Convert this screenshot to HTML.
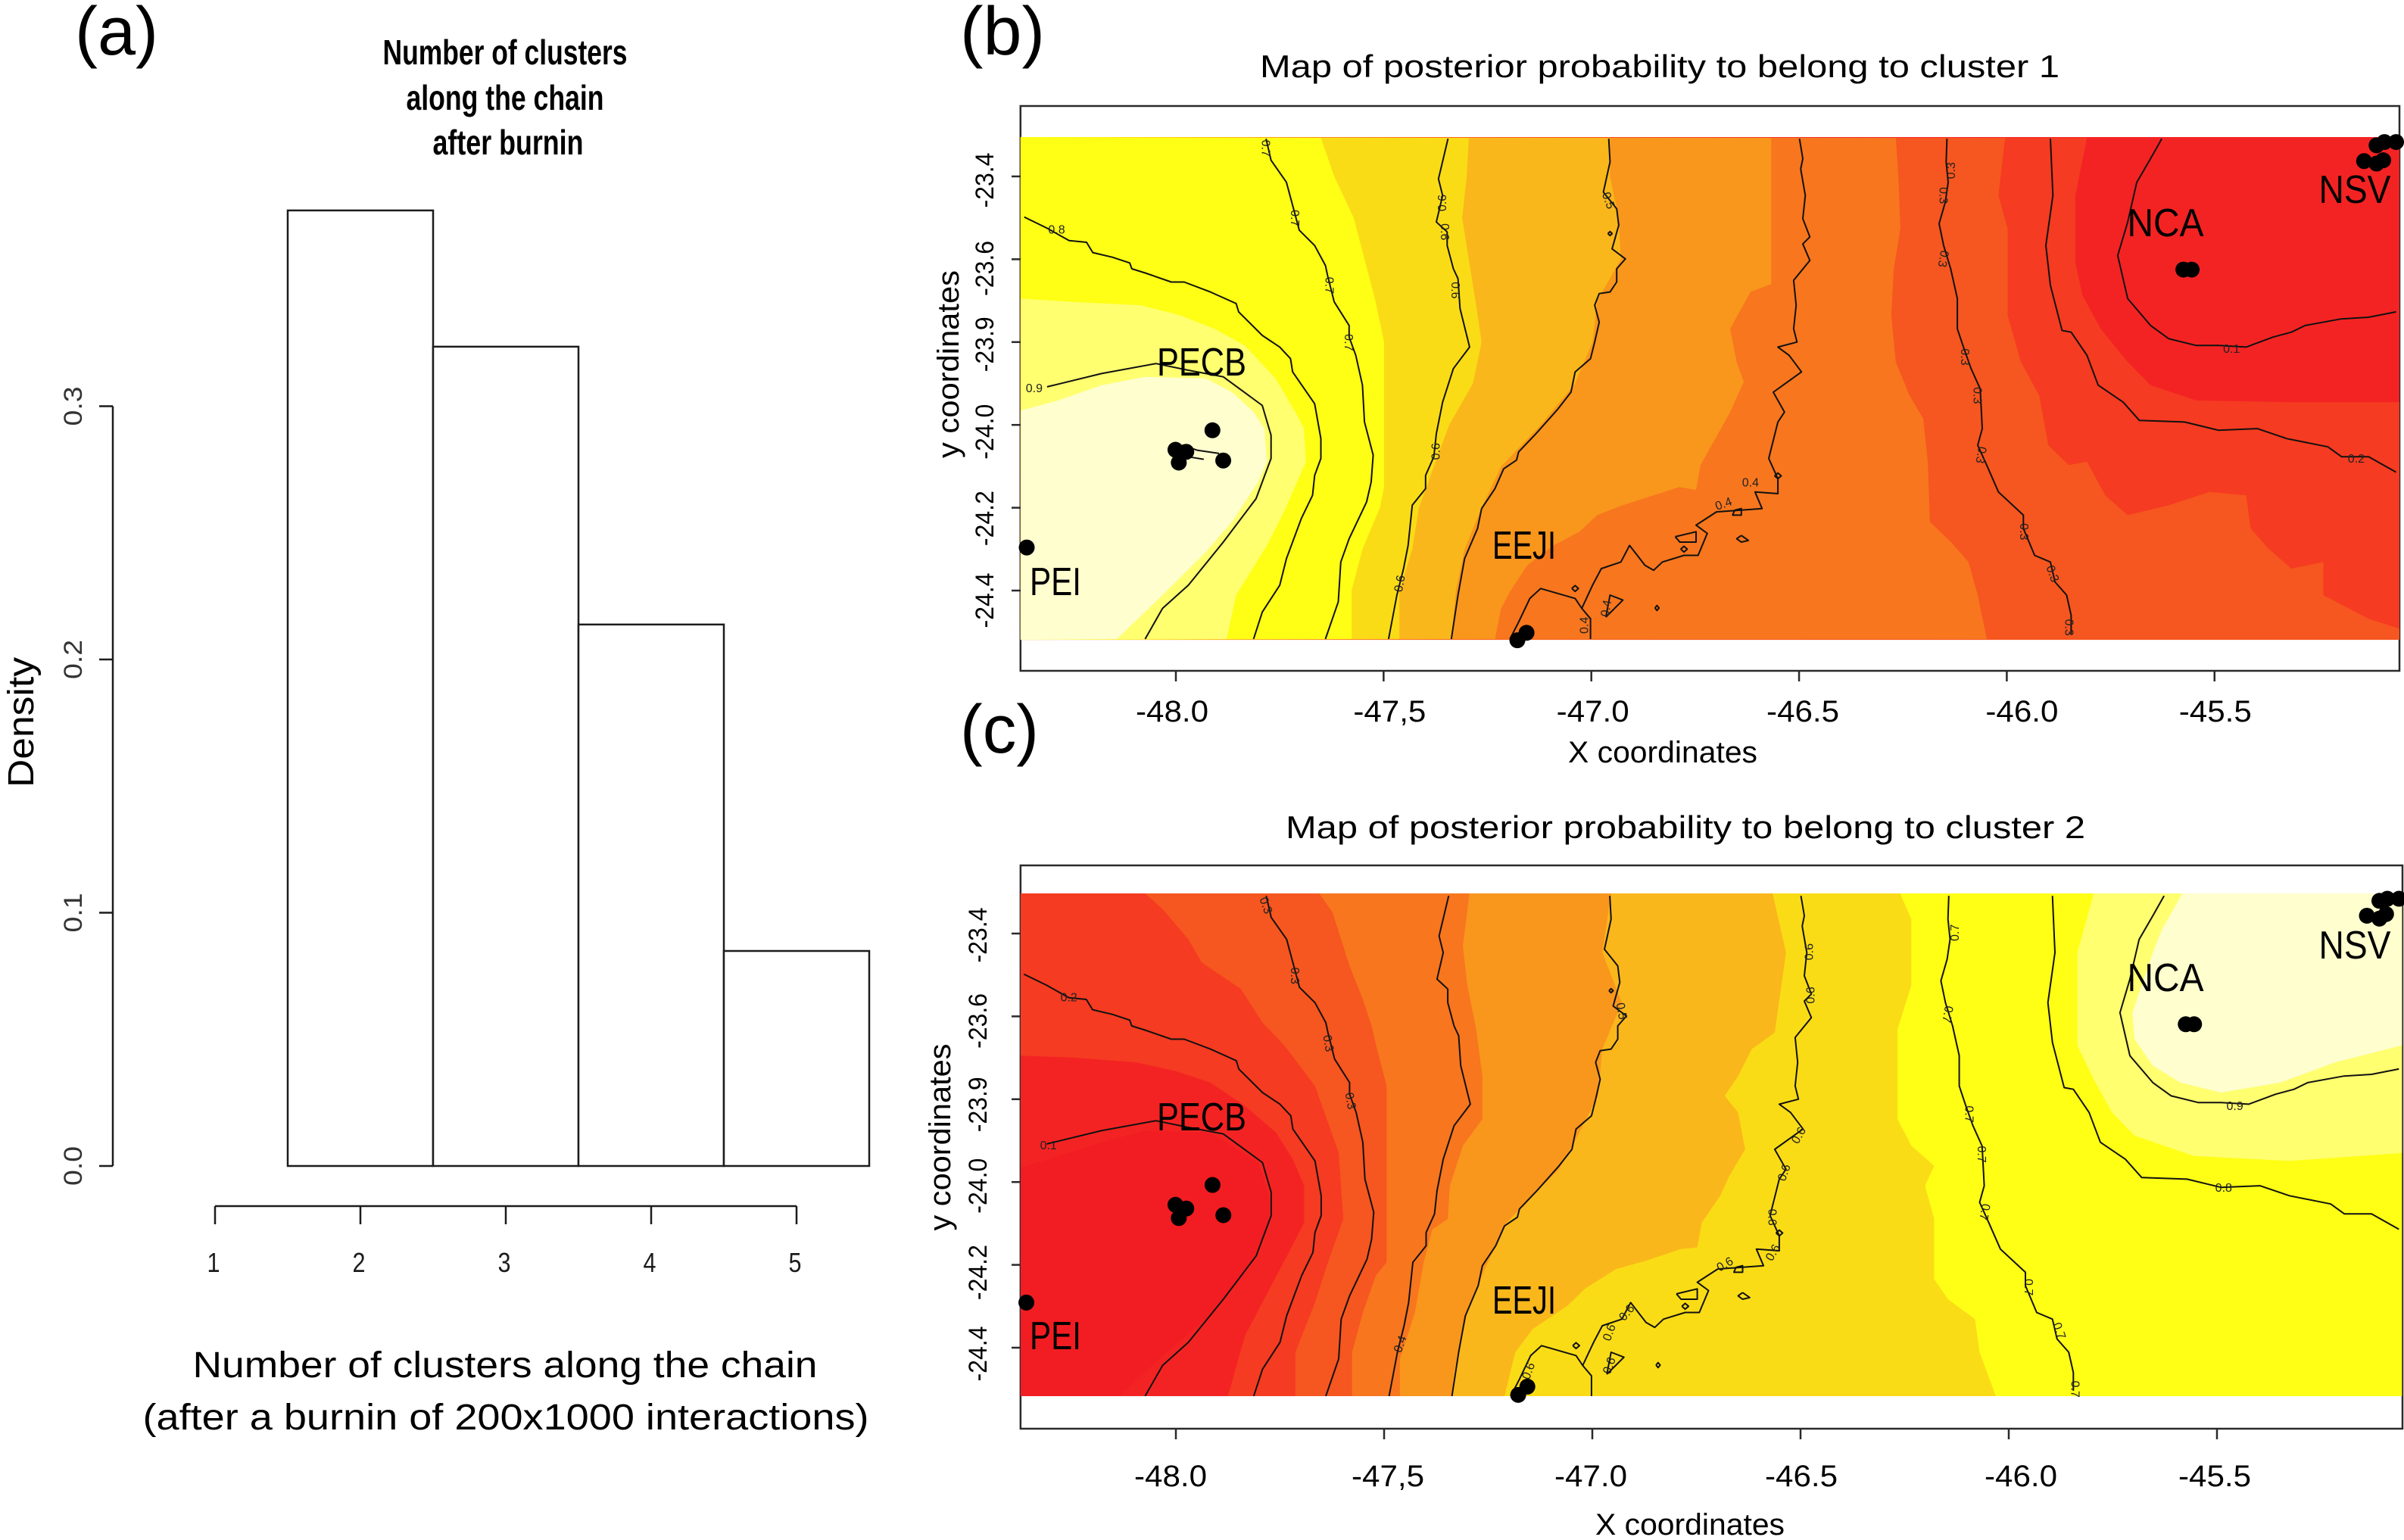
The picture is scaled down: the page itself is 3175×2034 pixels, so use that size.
<!DOCTYPE html>
<html lang="en">
<head>
<meta charset="utf-8">
<title>Cluster histogram and posterior probability maps</title>
<style>
html,body{margin:0;padding:0;background:#fff;}
svg{display:block;font-family:"Liberation Sans",sans-serif;}
</style>
</head>
<body>
<svg id="figure" xmlns="http://www.w3.org/2000/svg" width="3175" height="2034" viewBox="0 0 3175 2034">
  <rect x="0" y="0" width="3175" height="2034" fill="#ffffff"/>

  <text x="99" y="72" font-size="90" textLength="110" lengthAdjust="spacingAndGlyphs">(a)</text>
  <text x="1268" y="72" font-size="90" textLength="112" lengthAdjust="spacingAndGlyphs">(b)</text>
  <text x="1268" y="994" font-size="90" textLength="104" lengthAdjust="spacingAndGlyphs">(c)</text>

  <g id="histogram">
    <text x="667" y="85" font-size="46" font-weight="bold" text-anchor="middle" textLength="323" lengthAdjust="spacingAndGlyphs">Number of clusters</text>
    <text x="667" y="145" font-size="46" font-weight="bold" text-anchor="middle" textLength="261" lengthAdjust="spacingAndGlyphs">along the chain</text>
    <text x="671" y="204" font-size="46" font-weight="bold" text-anchor="middle" textLength="199" lengthAdjust="spacingAndGlyphs">after burnin</text>
    <text transform="translate(27 954) rotate(-90)" dy="0.35em" font-size="48" text-anchor="middle" textLength="172" lengthAdjust="spacingAndGlyphs">Density</text>
    <text x="667" y="1819" font-size="48" text-anchor="middle" textLength="825" lengthAdjust="spacingAndGlyphs">Number of clusters along the chain</text>
    <text x="668" y="1888" font-size="48" text-anchor="middle" textLength="959" lengthAdjust="spacingAndGlyphs">(after a burnin of 200x1000 interactions)</text>
  </g>

  <g id="map-b">
    <text x="2192" y="102" font-size="42" text-anchor="middle" textLength="1056" lengthAdjust="spacingAndGlyphs">Map of posterior probability to belong to cluster 1</text>
    <text x="2196" y="1007" font-size="40" text-anchor="middle" textLength="250" lengthAdjust="spacingAndGlyphs">X coordinates</text>
    <text transform="translate(1252 481) rotate(-90)" dy="0.35em" font-size="40" text-anchor="middle" textLength="248" lengthAdjust="spacingAndGlyphs">y coordinates</text>
  </g>

  <g id="map-c">
    <text x="2226" y="1107" font-size="42" text-anchor="middle" textLength="1056" lengthAdjust="spacingAndGlyphs">Map of posterior probability to belong to cluster 2</text>
    <text x="2232" y="2027" font-size="40" text-anchor="middle" textLength="250" lengthAdjust="spacingAndGlyphs">X coordinates</text>
    <text transform="translate(1241 1502) rotate(-90)" dy="0.35em" font-size="40" text-anchor="middle" textLength="247" lengthAdjust="spacingAndGlyphs">y coordinates</text>
  </g>
</svg>

<script>
/* ---------- histogram data ---------- */
const histCategories = [1, 2, 3, 4, 5];
const histDensities = [0, 0.3773, 0.3235, 0.2138, 0.0849];
const histYTicks = [0, 0.1, 0.2, 0.3];
const histYTickLabels = ['0.0', '0.1', '0.2', '0.3'];

/* ---------- map axis data ---------- */
const mapXTicks = [-48, -47.5, -47, -46.5, -46, -45.5];
const mapXTickLabels = ['-48.0', '-47,5', '-47.0', '-46.5', '-46.0', '-45.5'];
const mapYTicks = [-23.4, -23.6, -23.8, -24, -24.2, -24.4];
const mapYTickLabels = ['-23.4', '-23.6', '-23.9', '-24.0', '-24.2', '-24.4'];

/* ---------- cluster 1: probability band edges, [longitude, latitude] ---------- */
const c1EdgeRed = [[-45.807,-23.307],[-45.835,-23.446],[-45.835,-23.607],[-45.818,-23.687],[-45.774,-23.768],[-45.709,-23.848],[-45.654,-23.904],[-45.544,-23.941],[-45.326,-23.945],[-45.055,-23.945]];
const c1EdgeRedOrange = [[-46.004,-23.307],[-46.020,-23.446],[-45.998,-23.526],[-45.998,-23.735],[-45.966,-23.848],[-45.922,-23.929],[-45.900,-24.049],[-45.851,-24.097],[-45.807,-24.089],[-45.763,-24.170],[-45.709,-24.218],[-45.610,-24.194],[-45.512,-24.162],[-45.424,-24.170],[-45.413,-24.250],[-45.370,-24.299],[-45.315,-24.347],[-45.238,-24.331],[-45.238,-24.411],[-45.129,-24.468],[-45.055,-24.492]];
const c1EdgeOrangeRed = [[-46.267,-23.307],[-46.261,-23.398],[-46.256,-23.526],[-46.272,-23.623],[-46.278,-23.735],[-46.267,-23.848],[-46.234,-23.929],[-46.201,-23.985],[-46.190,-24.089],[-46.185,-24.234],[-46.135,-24.282],[-46.092,-24.331],[-46.070,-24.411],[-46.048,-24.517]];
const c1EdgeDarkOrange = [[-46.567,-23.307],[-46.567,-23.660],[-46.617,-23.679],[-46.639,-23.719],[-46.666,-23.768],[-46.650,-23.848],[-46.633,-23.896],[-46.666,-23.969],[-46.688,-24.009],[-46.715,-24.057],[-46.737,-24.097],[-46.748,-24.157],[-46.788,-24.150],[-46.924,-24.194],[-46.986,-24.218],[-47.028,-24.258],[-47.091,-24.291],[-47.154,-24.339],[-47.196,-24.403],[-47.217,-24.443],[-47.232,-24.517]];
const c1EdgeOrange = [[-46.955,-23.307],[-46.955,-23.400],[-46.934,-23.500],[-46.929,-23.600],[-46.986,-23.700],[-46.997,-23.800],[-47.039,-23.900],[-47.122,-24.000],[-47.217,-24.100],[-47.264,-24.200],[-47.305,-24.300],[-47.326,-24.400],[-47.337,-24.517]];
const c1EdgeAmber = [[-47.295,-23.307],[-47.300,-23.400],[-47.311,-23.500],[-47.295,-23.600],[-47.279,-23.700],[-47.264,-23.800],[-47.285,-23.900],[-47.342,-24.000],[-47.379,-24.100],[-47.415,-24.200],[-47.431,-24.300],[-47.462,-24.400],[-47.462,-24.517]];
const c1EdgeGold = [[-47.651,-23.307],[-47.619,-23.400],[-47.572,-23.500],[-47.546,-23.600],[-47.520,-23.700],[-47.499,-23.800],[-47.499,-24.000],[-47.499,-24.150],[-47.509,-24.200],[-47.551,-24.300],[-47.577,-24.400],[-47.577,-24.517]];
const c1EdgeYellow = [[-48.373,-23.695],[-48.252,-23.703],[-48.085,-23.711],[-47.991,-23.735],[-47.907,-23.768],[-47.834,-23.808],[-47.760,-23.888],[-47.708,-23.977],[-47.692,-24.009],[-47.687,-24.089],[-47.719,-24.162],[-47.740,-24.210],[-47.781,-24.291],[-47.855,-24.411],[-47.878,-24.517]];
const c1EdgeLight = [[-48.373,-23.965],[-48.283,-23.941],[-48.179,-23.904],[-48.074,-23.884],[-47.928,-23.888],[-47.865,-23.921],[-47.813,-23.969],[-47.787,-24.009],[-47.781,-24.089],[-47.802,-24.138],[-47.865,-24.234],[-47.928,-24.307],[-48.032,-24.411],[-48.142,-24.517]];

/* ---------- cluster 2: probability band edges, [longitude, latitude] ---------- */
const c2EdgeRed = [[-48.373,-23.965],[-48.283,-23.937],[-48.179,-23.904],[-48.074,-23.876],[-47.917,-23.880],[-47.802,-23.953],[-47.771,-24.049],[-47.781,-24.122],[-47.844,-24.234],[-47.928,-24.331],[-48.022,-24.411],[-48.137,-24.517]];
const c2EdgeRedOrange = [[-48.373,-23.695],[-48.252,-23.699],[-48.095,-23.711],[-48.001,-23.732],[-47.917,-23.760],[-47.834,-23.816],[-47.760,-23.880],[-47.719,-23.945],[-47.692,-24.009],[-47.692,-24.098],[-47.729,-24.170],[-47.771,-24.250],[-47.834,-24.371],[-47.875,-24.517]];
const c2EdgeOrangeRed = [[-48.074,-23.303],[-48.032,-23.341],[-47.970,-23.414],[-47.938,-23.470],[-47.844,-23.534],[-47.792,-23.615],[-47.739,-23.671],[-47.666,-23.768],[-47.609,-23.929],[-47.598,-24.089],[-47.635,-24.194],[-47.666,-24.291],[-47.713,-24.411],[-47.713,-24.517]];
const c2EdgeDarkOrange = [[-47.656,-23.303],[-47.624,-23.349],[-47.583,-23.478],[-47.551,-23.559],[-47.530,-23.623],[-47.515,-23.687],[-47.494,-23.768],[-47.494,-24.194],[-47.520,-24.226],[-47.551,-24.315],[-47.577,-24.411],[-47.577,-24.517]];
const c2EdgeOrange = [[-47.295,-23.303],[-47.311,-23.430],[-47.300,-23.526],[-47.279,-23.631],[-47.264,-23.744],[-47.264,-23.848],[-47.311,-23.912],[-47.342,-24.009],[-47.347,-24.089],[-47.384,-24.114],[-47.405,-24.194],[-47.426,-24.315],[-47.462,-24.427],[-47.462,-24.517]];
const c2EdgeAmber = [[-46.955,-23.303],[-46.976,-23.446],[-46.929,-23.567],[-46.976,-23.679],[-46.986,-23.792],[-47.039,-23.896],[-47.080,-23.969],[-47.143,-24.033],[-47.206,-24.098],[-47.258,-24.210],[-47.300,-24.315],[-47.332,-24.460],[-47.337,-24.517]];
const c2EdgeGold = [[-46.567,-23.303],[-46.535,-23.446],[-46.546,-23.526],[-46.562,-23.639],[-46.617,-23.679],[-46.650,-23.744],[-46.682,-23.792],[-46.650,-23.832],[-46.633,-23.921],[-46.671,-23.985],[-46.693,-24.033],[-46.737,-24.098],[-46.748,-24.158],[-46.788,-24.162],[-46.871,-24.190],[-46.943,-24.210],[-47.018,-24.258],[-47.060,-24.299],[-47.143,-24.355],[-47.185,-24.411],[-47.211,-24.517]];
const c2EdgeYellow = [[-46.261,-23.303],[-46.234,-23.365],[-46.234,-23.526],[-46.267,-23.631],[-46.267,-23.848],[-46.234,-23.912],[-46.179,-23.961],[-46.201,-24.009],[-46.179,-24.089],[-46.179,-24.234],[-46.146,-24.283],[-46.081,-24.331],[-46.070,-24.411],[-46.031,-24.517]];
const c2EdgeLight = [[-45.796,-23.303],[-45.835,-23.446],[-45.835,-23.671],[-45.796,-23.752],[-45.752,-23.832],[-45.698,-23.888],[-45.556,-23.937],[-45.326,-23.949],[-45.044,-23.929]];
const c2EdgePale = [[-45.583,-23.303],[-45.632,-23.390],[-45.654,-23.446],[-45.703,-23.591],[-45.698,-23.655],[-45.654,-23.719],[-45.588,-23.760],[-45.490,-23.784],[-45.348,-23.760],[-45.216,-23.711],[-45.044,-23.667]];

/* ---------- contour traces, [longitude, latitude] ---------- */
const contourA = [[-48.365,-23.498],[-48.310,-23.525],[-48.257,-23.555],[-48.215,-23.559],[-48.200,-23.584],[-48.153,-23.595],[-48.111,-23.609],[-48.106,-23.623],[-48.074,-23.633],[-48.011,-23.655],[-47.980,-23.655],[-47.917,-23.679],[-47.855,-23.707],[-47.849,-23.727],[-47.792,-23.784],[-47.750,-23.812],[-47.724,-23.840],[-47.719,-23.872],[-47.666,-23.949],[-47.651,-24.033],[-47.651,-24.081],[-47.666,-24.122],[-47.671,-24.170],[-47.698,-24.226],[-47.734,-24.323],[-47.750,-24.387],[-47.792,-24.452],[-47.813,-24.517]];
const contourB = [[-47.783,-23.309],[-47.771,-23.361],[-47.734,-23.414],[-47.719,-23.470],[-47.703,-23.530],[-47.666,-23.567],[-47.640,-23.615],[-47.635,-23.639],[-47.619,-23.703],[-47.583,-23.760],[-47.583,-23.788],[-47.567,-23.832],[-47.551,-23.904],[-47.546,-23.993],[-47.525,-24.073],[-47.530,-24.138],[-47.541,-24.186],[-47.583,-24.275],[-47.603,-24.331],[-47.609,-24.427],[-47.640,-24.517]];
const contourC = [[-47.345,-23.309],[-47.368,-23.406],[-47.358,-23.446],[-47.373,-23.510],[-47.347,-23.534],[-47.347,-23.567],[-47.332,-23.623],[-47.321,-23.647],[-47.316,-23.719],[-47.300,-23.784],[-47.293,-23.812],[-47.332,-23.864],[-47.358,-23.945],[-47.373,-24.021],[-47.379,-24.077],[-47.399,-24.122],[-47.399,-24.154],[-47.431,-24.194],[-47.441,-24.291],[-47.452,-24.347],[-47.468,-24.411],[-47.488,-24.517]];
const contourD = [[-46.958,-23.309],[-46.955,-23.365],[-46.971,-23.438],[-46.939,-23.478],[-46.934,-23.518],[-46.950,-23.575],[-46.918,-23.599],[-46.939,-23.623],[-46.939,-23.655],[-46.955,-23.679],[-46.981,-23.683],[-46.992,-23.711],[-46.981,-23.752],[-46.992,-23.800],[-47.002,-23.840],[-47.039,-23.872],[-47.049,-23.921],[-47.080,-23.961],[-47.133,-24.021],[-47.175,-24.065],[-47.180,-24.085],[-47.211,-24.106],[-47.232,-24.154],[-47.264,-24.202],[-47.274,-24.250],[-47.305,-24.323],[-47.321,-24.411],[-47.337,-24.517]];
const contourE = [[-46.499,-23.309],[-46.491,-23.357],[-46.496,-23.382],[-46.485,-23.446],[-46.491,-23.502],[-46.474,-23.546],[-46.491,-23.563],[-46.474,-23.603],[-46.513,-23.651],[-46.507,-23.711],[-46.513,-23.768],[-46.505,-23.800],[-46.551,-23.812],[-46.524,-23.832],[-46.494,-23.872],[-46.562,-23.921],[-46.535,-23.969],[-46.551,-23.993],[-46.567,-24.057],[-46.573,-24.081],[-46.551,-24.130],[-46.551,-24.166],[-46.606,-24.162],[-46.589,-24.202],[-46.699,-24.210],[-46.748,-24.242],[-46.721,-24.262],[-46.743,-24.315],[-46.777,-24.315],[-46.829,-24.331],[-46.850,-24.351],[-46.871,-24.339],[-46.908,-24.291],[-46.929,-24.331],[-46.976,-24.347],[-46.997,-24.387],[-47.023,-24.443],[-47.039,-24.419],[-47.122,-24.395],[-47.148,-24.419],[-47.175,-24.476],[-47.196,-24.517]];
const contourEBranch = [[-47.023,-24.443],[-47.002,-24.468],[-47.002,-24.517]];
const contourF = [[-46.144,-23.309],[-46.146,-23.365],[-46.141,-23.414],[-46.148,-23.462],[-46.163,-23.514],[-46.152,-23.567],[-46.135,-23.623],[-46.119,-23.695],[-46.119,-23.768],[-46.103,-23.816],[-46.086,-23.864],[-46.064,-23.913],[-46.059,-24.009],[-46.070,-24.049],[-46.048,-24.098],[-46.020,-24.162],[-45.960,-24.218],[-45.960,-24.250],[-45.933,-24.315],[-45.895,-24.331],[-45.884,-24.379],[-45.856,-24.411],[-45.845,-24.460],[-45.845,-24.504]];
const contourG = [[-45.895,-23.309],[-45.889,-23.446],[-45.906,-23.567],[-45.895,-23.663],[-45.867,-23.772],[-45.845,-23.776],[-45.807,-23.832],[-45.780,-23.904],[-45.720,-23.945],[-45.681,-23.989],[-45.572,-23.993],[-45.490,-24.013],[-45.397,-24.009],[-45.326,-24.033],[-45.227,-24.053],[-45.194,-24.077],[-45.129,-24.077],[-45.063,-24.114]];
const contourH = [[-45.627,-23.309],[-45.654,-23.357],[-45.687,-23.414],[-45.709,-23.510],[-45.733,-23.591],[-45.709,-23.695],[-45.654,-23.760],[-45.610,-23.792],[-45.545,-23.808],[-45.490,-23.808],[-45.424,-23.812],[-45.359,-23.788],[-45.315,-23.776],[-45.282,-23.760],[-45.195,-23.744],[-45.129,-23.740],[-45.063,-23.727]];
const contourI = [[-48.310,-23.908],[-48.179,-23.876],[-48.048,-23.852],[-47.970,-23.868],[-47.886,-23.884],[-47.792,-23.953],[-47.771,-24.025],[-47.771,-24.081],[-47.807,-24.178],[-47.886,-24.283],[-47.970,-24.387],[-48.032,-24.443],[-48.074,-24.517]];
const contourPeak1 = [[-47.985,-24.049],[-47.949,-24.061],[-47.896,-24.069]];
const contourPeak2 = [[-47.970,-24.077],[-47.933,-24.083]];
const contourLoop1 = [[-46.965,-24.464],[-46.924,-24.423],[-46.955,-24.411],[-46.965,-24.464]];
const contourLoop2 = [[-46.639,-24.267],[-46.622,-24.279],[-46.639,-24.283],[-46.650,-24.275],[-46.639,-24.267]];
const contourLoop3 = [[-46.655,-24.206],[-46.639,-24.202],[-46.639,-24.218],[-46.660,-24.218],[-46.655,-24.206]];
const contourLoop4 = [[-46.798,-24.270],[-46.748,-24.258],[-46.748,-24.283],[-46.787,-24.283],[-46.798,-24.270]];
const contourLoop5 = [[-46.785,-24.300],[-46.777,-24.293],[-46.769,-24.300],[-46.777,-24.307],[-46.785,-24.300]];
const contourLoop6 = [[-47.047,-24.395],[-47.039,-24.388],[-47.031,-24.395],[-47.039,-24.402],[-47.047,-24.395]];
const contourLoop7 = [[-46.559,-24.123],[-46.551,-24.116],[-46.543,-24.123],[-46.551,-24.130],[-46.559,-24.123]];
const contourLoop8 = [[-46.960,-23.538],[-46.955,-23.533],[-46.950,-23.538],[-46.955,-23.543],[-46.960,-23.538]];
const contourLoop9 = [[-46.847,-24.442],[-46.842,-24.436],[-46.837,-24.442],[-46.842,-24.448],[-46.847,-24.442]];

/* ---------- contour labels: longitude, latitude, text, rotation ---------- */
const c1ContourLabels = [[-48.287,-23.528,'0.8',0],[-48.341,-23.911,'0.9',0],[-47.783,-23.332,'0.7',90],[-47.713,-23.501,'0.7',90],[-47.630,-23.663,'0.7',90],[-47.583,-23.801,'0.7',90],[-47.360,-23.464,'0.6',-90],[-47.352,-23.534,'0.6',90],[-47.326,-23.675,'0.6',90],[-47.375,-24.064,'0.6',-90],[-47.462,-24.383,'0.6',-80],[-46.958,-23.458,'0.5',70],[-46.965,-24.443,'0.4',-80],[-47.018,-24.484,'0.4',-90],[-46.135,-23.386,'0.3',-90],[-46.152,-23.446,'0.3',90],[-46.152,-23.599,'0.3',100],[-46.100,-23.836,'0.3',90],[-46.070,-23.929,'0.3',90],[-46.061,-24.073,'0.3',100],[-45.958,-24.258,'0.3',90],[-45.889,-24.359,'0.3',70],[-45.849,-24.489,'0.3',90],[-46.682,-24.190,'0.4',-20],[-46.617,-24.138,'0.4',0],[-45.459,-23.816,'0.1',0],[-45.159,-24.081,'0.2',0]];
const c2ContourLabels = [[-48.257,-23.553,'0.2',0],[-48.306,-23.911,'0.1',0],[-47.783,-23.332,'0.3',70],[-47.713,-23.502,'0.3',90],[-47.633,-23.665,'0.3',80],[-47.580,-23.804,'0.3',80],[-47.462,-24.391,'0.4',-70],[-46.929,-23.587,'0.5',80],[-46.480,-23.444,'0.6',-90],[-46.477,-23.549,'0.6',-90],[-46.505,-23.887,'0.6',-60],[-46.540,-23.977,'0.6',-70],[-46.567,-24.085,'0.6',90],[-46.567,-24.170,'0.6',-60],[-46.682,-24.198,'0.6',-30],[-46.130,-23.398,'0.7',-90],[-46.146,-23.595,'0.7',100],[-46.094,-23.836,'0.7',90],[-46.064,-23.933,'0.7',90],[-46.057,-24.073,'0.7',100],[-45.952,-24.254,'0.7',90],[-45.878,-24.359,'0.7',70],[-45.840,-24.500,'0.7',90],[-45.457,-23.816,'0.9',0],[-45.484,-24.013,'0.8',0],[-47.154,-24.456,'0.6',-70],[-46.960,-24.363,'0.6',-70],[-46.918,-24.315,'0.6',-50],[-46.960,-24.443,'0.6',-70]];

/* ---------- sampling sites: longitude, latitude ---------- */
const c1Sites = [[-47.912,-24.013],[-48.001,-24.060],[-47.975,-24.065],[-47.993,-24.091],[-47.886,-24.086],[-48.359,-24.296],[-47.156,-24.502],[-47.178,-24.520],[-45.575,-23.625],[-45.555,-23.625],[-45.063,-23.317],[-45.091,-23.317],[-45.110,-23.325],[-45.140,-23.363],[-45.110,-23.369],[-45.094,-23.361]];
const c2Sites = [[-47.912,-24.007],[-48.001,-24.055],[-47.975,-24.064],[-47.993,-24.087],[-47.886,-24.080],[-48.359,-24.291],[-47.156,-24.494],[-47.178,-24.514],[-45.575,-23.619],[-45.555,-23.619],[-45.063,-23.316],[-45.091,-23.316],[-45.110,-23.321],[-45.140,-23.357],[-45.110,-23.364],[-45.094,-23.353]];

/* ---------- site names ---------- */
const siteNames = ['PECB', 'EEJI', 'PEI', 'NCA', 'NSV'];

/* ---------- rendering ---------- */
const SVG_NS = 'http://www.w3.org/2000/svg';
const COLORS = {
  deep: '#F21D22', red: '#F42323', redOrange: '#F53B21', orangeRed: '#F6561F',
  darkOrange: '#F7761E', orange: '#F9961C', amber: '#FAB71B', gold: '#FADC16',
  yellow: '#FFFF16', light: '#FFFF70', pale: '#FEFECE'
};

function make(parent, tag, attrs, text) {
  const el = document.createElementNS(SVG_NS, tag);
  for (const key in attrs) { el.setAttribute(key, attrs[key]); }
  if (text !== undefined) { el.textContent = text; }
  parent.appendChild(el);
  return el;
}

/* histogram */
const histGroup = document.getElementById('histogram');
const histX = v => 284 + (v - 1) * 192;
const histY = v => 1540 - v * 3345;

histCategories.forEach((cat, i) => {
  const x0 = histX(cat - 0.5);
  const x1 = histX(cat + 0.5);
  const bar = make(histGroup, 'rect', {
    x: x0, y: histY(histDensities[i]), width: x1 - x0,
    height: histY(0) - histY(histDensities[i]),
    fill: '#ffffff', stroke: '#1c1c1c', 'stroke-width': 2.5
  });
  
  

  const tick = make(histGroup, 'line', {
    x1: histX(cat), x2: histX(cat), y1: 1593, y2: 1617, stroke: '#1c1c1c', 'stroke-width': 2.5
  });
  
  

  const label = make(histGroup, 'text', {
    x: histX(cat) - 2, y: 1680, 'font-size': 36, 'text-anchor': 'middle', fill: '#1c1c1c',
    textLength: 17, lengthAdjust: 'spacingAndGlyphs'
  }, String(cat));
  
  
});

const histXAxis = make(histGroup, 'line', {
  x1: histX(histCategories[0]), x2: histX(histCategories[histCategories.length - 1]),
  y1: 1593, y2: 1593, stroke: '#1c1c1c', 'stroke-width': 2.5
});



const histYAxis = make(histGroup, 'line', {
  x1: 149, x2: 149, y1: histY(histYTicks[histYTicks.length - 1]), y2: histY(histYTicks[0]),
  stroke: '#1c1c1c', 'stroke-width': 2.5
});



histYTicks.forEach((value, i) => {
  const tick = make(histGroup, 'line', {
    x1: 131, x2: 149, y1: histY(value), y2: histY(value), stroke: '#1c1c1c', 'stroke-width': 2.5
  });
  
  

  const label = make(histGroup, 'text', {
    transform: 'translate(96 ' + histY(value) + ') rotate(-90)', dy: '0.35em',
    'font-size': 34, 'text-anchor': 'middle', fill: '#333333',
    textLength: 52, lengthAdjust: 'spacingAndGlyphs'
  }, histYTickLabels[i]);
  
  
});

/* maps */
const sharedTraces = [contourA, contourB, contourC, contourD, contourE, contourEBranch, contourF, contourG, contourH, contourI, contourLoop1, contourLoop2, contourLoop3, contourLoop4, contourLoop5, contourLoop6, contourLoop7, contourLoop8, contourLoop9];

const panels = [
  {
    id: 'map-b', prefix: 'cluster-1', clip: 'clip-b', base: COLORS.red,
    pxPerLon: 548.7, lon0: 1553, lat0: 233, pxPerLat: 547,
    lonMin: -48.374, lonMax: -45.055, latTop: -23.305, latBottom: -24.519,
    frameTop: 140, frameBottom: 886, frameRight: 3169,
    bands: [
      { edge: c1EdgeRed, close: ['BR', 'BL', 'TL'], color: COLORS.redOrange },
      { edge: c1EdgeRedOrange, close: ['BR', 'BL', 'TL'], color: COLORS.orangeRed },
      { edge: c1EdgeOrangeRed, close: ['BL', 'TL'], color: COLORS.darkOrange },
      { edge: c1EdgeDarkOrange, close: ['BL', 'TL'], color: COLORS.orange },
      { edge: c1EdgeOrange, close: ['BL', 'TL'], color: COLORS.amber },
      { edge: c1EdgeAmber, close: ['BL', 'TL'], color: COLORS.gold },
      { edge: c1EdgeGold, close: ['BL', 'TL'], color: COLORS.yellow },
      { edge: c1EdgeYellow, close: ['BL'], color: COLORS.light },
      { edge: c1EdgeLight, close: ['BL'], color: COLORS.pale }
    ],
    extraTraces: [contourPeak1, contourPeak2],
    labels: c1ContourLabels, sites: c1Sites,
    xLabelY: 953, xLabelOffsets: [-5, 8, 2, 5, 20, 1],
    yLabelX: 1300, yLabelOffsets: [5, 12, 3, 9, 14, 13],
    nameSpots: [[1587, 496, 118], [2013, 738, 84], [1394, 786, 68], [2860, 312, 101], [3110, 268, 95]]
  },
  {
    id: 'map-c', prefix: 'cluster-2', clip: 'clip-c', base: COLORS.deep,
    pxPerLon: 550, lon0: 1553, lat0: 1233, pxPerLat: 547,
    lonMin: -48.373, lonMax: -45.056, latTop: -23.303, latBottom: -24.517,
    frameTop: 1143, frameBottom: 1887, frameRight: 3173,
    bands: [
      { edge: c2EdgeRed, close: ['BR', 'TR', 'TL'], color: COLORS.red },
      { edge: c2EdgeRedOrange, close: ['BR', 'TR', 'TL'], color: COLORS.redOrange },
      { edge: c2EdgeOrangeRed, close: ['BR', 'TR'], color: COLORS.orangeRed },
      { edge: c2EdgeDarkOrange, close: ['BR', 'TR'], color: COLORS.darkOrange },
      { edge: c2EdgeOrange, close: ['BR', 'TR'], color: COLORS.orange },
      { edge: c2EdgeAmber, close: ['BR', 'TR'], color: COLORS.amber },
      { edge: c2EdgeGold, close: ['BR', 'TR'], color: COLORS.gold },
      { edge: c2EdgeYellow, close: ['BR', 'TR'], color: COLORS.yellow },
      { edge: c2EdgeLight, close: ['TR'], color: COLORS.light },
      { edge: c2EdgePale, close: ['TR'], color: COLORS.pale }
    ],
    extraTraces: [],
    labels: c2ContourLabels, sites: c2Sites,
    xLabelY: 1963, xLabelOffsets: [-7, 5, -2, 1, 16, -3],
    yLabelX: 1291, yLabelOffsets: [2, 6, 7, 5, 10, 8],
    nameSpots: [[1587, 1493, 118], [2013, 1735, 84], [1394, 1782, 68], [2860, 1309, 101], [3110, 1266, 95]]
  }
];

panels.forEach(p => {
  const group = document.getElementById(p.id);
  const px = lon => p.lon0 + (lon + 48) * p.pxPerLon;
  const py = lat => p.lat0 + (-23.4 - lat) * p.pxPerLat;
  const corner = code => ({
    TL: [p.lonMin, p.latTop], TR: [p.lonMax, p.latTop],
    BL: [p.lonMin, p.latBottom], BR: [p.lonMax, p.latBottom]
  })[code];
  const toPath = points => points.map((pt, i) => (i ? 'L' : 'M') + px(pt[0]).toFixed(1) + ' ' + py(pt[1]).toFixed(1)).join('');

  const frame = make(group, 'rect', {
    x: px(p.lonMin), y: p.frameTop, width: p.frameRight - px(p.lonMin),
    height: p.frameBottom - p.frameTop, fill: '#ffffff', stroke: '#2a2a2a', 'stroke-width': 2.5
  });
  
  

  const clipPath = make(group, 'clipPath', { id: p.clip });
  make(clipPath, 'rect', {
    x: px(p.lonMin), y: py(p.latTop), width: px(p.lonMax) - px(p.lonMin), height: py(p.latBottom) - py(p.latTop)
  });

  const heat = make(group, 'g', { 'clip-path': 'url(#' + p.clip + ')' });
  
  

  const baseRect = make(heat, 'rect', {
    x: px(p.lonMin), y: py(p.latTop), width: px(p.lonMax) - px(p.lonMin),
    height: py(p.latBottom) - py(p.latTop), fill: p.base
  });
  
  

  p.bands.forEach(band => {
    const outline = band.edge.concat(band.close.map(corner));
    const region = make(heat, 'path', { d: toPath(outline) + 'Z', fill: band.color });
    
    
  });

  sharedTraces.concat(p.extraTraces).forEach(trace => {
    const line = make(heat, 'path', {
      d: toPath(trace), fill: 'none', stroke: '#111111', 'stroke-width': 2, 'stroke-linejoin': 'round'
    });
    
    
  });

  p.labels.forEach(item => {
    const text = make(group, 'text', {
      transform: 'translate(' + px(item[0]).toFixed(1) + ' ' + py(item[1]).toFixed(1) + ') rotate(' + item[3] + ')',
      dy: '0.35em', 'font-size': 16, 'text-anchor': 'middle', fill: '#222222'
    }, item[2]);
    
    
  });

  mapXTicks.forEach((value, i) => {
    const tick = make(group, 'line', {
      x1: px(value), x2: px(value), y1: p.frameBottom, y2: p.frameBottom + 14, stroke: '#2a2a2a', 'stroke-width': 2.5
    });
    
    

    const label = make(group, 'text', {
      x: px(value) + p.xLabelOffsets[i], y: p.xLabelY, 'font-size': 40, 'text-anchor': 'middle',
      textLength: 96, lengthAdjust: 'spacingAndGlyphs'
    }, mapXTickLabels[i]);
    
    
  });

  mapYTicks.forEach((value, i) => {
    const tick = make(group, 'line', {
      x1: 1336, x2: 1348, y1: py(value), y2: py(value), stroke: '#2a2a2a', 'stroke-width': 2.5
    });
    
    

    const label = make(group, 'text', {
      transform: 'translate(' + p.yLabelX + ' ' + (py(value) + p.yLabelOffsets[i]) + ') rotate(-90)',
      dy: '0.35em', 'font-size': 34, 'text-anchor': 'middle',
      textLength: 73, lengthAdjust: 'spacingAndGlyphs'
    }, mapYTickLabels[i]);
    
    
  });

  p.sites.forEach(site => {
    const dot = make(group, 'circle', { cx: px(site[0]), cy: py(site[1]), r: 10.5, fill: '#000000' });
    
    
  });

  siteNames.forEach((name, i) => {
    const spot = p.nameSpots[i];
    const text = make(group, 'text', {
      x: spot[0], y: spot[1], 'font-size': 52, 'text-anchor': 'middle',
      textLength: spot[2], lengthAdjust: 'spacingAndGlyphs'
    }, name);
    
    
  });
});
</script>
</body>
</html>
